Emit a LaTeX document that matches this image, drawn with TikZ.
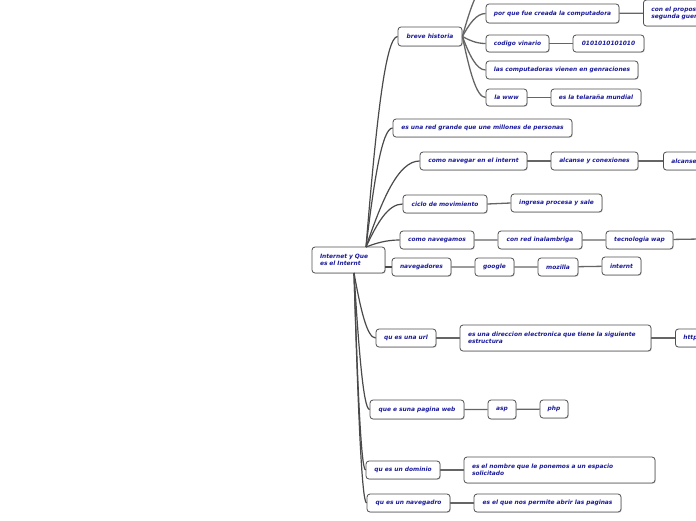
\documentclass[tikz,border=0pt]{standalone}
\usepackage{fontspec}
\newfontfamily\mapfont{DejaVu Sans}
\usetikzlibrary{calc,shadows}
\definecolor{ink}{HTML}{1A1A99}
\definecolor{wire}{HTML}{4A4A4A}
\definecolor{frame}{HTML}{505050}
\tikzset{
  topic/.style={draw=frame,fill=white,line width=0.8pt,rounded corners=3pt,text=ink,
    font=\mapfont\bfseries\itshape\fontsize{5.9}{6.8}\selectfont,inner xsep=2pt,inner ysep=0pt,
    drop shadow={shadow xshift=0.8pt,shadow yshift=-0.8pt,fill=black!30}},
  wide/.style={align=left,inner xsep=8pt},
  trunk/.style={draw=wire,line width=1.2pt},
  twig/.style={draw=wire!85,line width=1.3pt},
}
\begin{document}
\begin{tikzpicture}[x=1pt,y=-1pt]
  \useasboundingbox (0,0) rectangle (696,520);
  \clip (0,0) rectangle (696,520);
  \def\topicnode#1#2#3#4#5{\node[topic,minimum width=#3,minimum height=#4] (#1) at (#2) {#5};}
  \def\branch#1#2#3{\draw[#1] let \p1=(#2), \p2=(#3) in (\p1) .. controls ({\x1+0.3*(\x2-\x1)},{\y1+0.55*(\y2-\y1)}) and ({\x2-0.4*(\x2-\x1)},\y2) .. (\p2);}
  % central topic
  \node[topic,wide,text width=57pt,minimum height=26pt] (root) at (348.5,260) {Internet y Que\\es el Internt};
  % breve historia
  \topicnode{breve}{430,36.5}{64pt}{19pt}{breve historia}
  \topicnode{porque}{552.5,13.5}{133pt}{19pt}{por que fue creada la computadora}
  \node[topic,wide,text width=150pt,minimum height=26pt,anchor=west] (proposito) at (643,13) {con el proposito de\\segunda guerra mundial};
  \topicnode{codigo}{517.5,43.5}{63pt}{17pt}{codigo vinario}
  \topicnode{binario}{608.5,43.5}{71pt}{17pt}{0101010101010}
  \topicnode{genera}{562,70}{152pt}{18pt}{las computadoras vienen en genraciones}
  \topicnode{www}{506.5,97.5}{41pt}{17pt}{la www}
  \topicnode{telarana}{596,97.5}{90pt}{17pt}{es la telaraña mundial}
  % upper branches
  \topicnode{redgrande}{482.5,128}{179pt}{18pt}{es una red grande que une millones de personas}
  \topicnode{navegar}{473.5,161}{107pt}{18pt}{como navegar en el internt}
  \topicnode{alcanse}{594.5,161}{87pt}{18pt}{alcanse y conexiones}
  \node[topic,wide,text width=60pt,minimum height=18pt,anchor=west] (alcansemas) at (663,161) {alcanse};
  \topicnode{ciclo}{445,204}{84pt}{18pt}{ciclo de movimiento}
  \topicnode{ingresa}{556.5,203}{91pt}{18pt}{ingresa procesa y sale}
  \topicnode{navegamos}{437,240}{74pt}{18pt}{como navegamos}
  \topicnode{inalambrica}{540,240}{84pt}{18pt}{con red inalambriga}
  \topicnode{wap}{639.5,240}{67pt}{18pt}{tecnologia wap}
  \topicnode{navegadores}{421.5,267}{59pt}{18pt}{navegadores}
  \topicnode{google}{494.5,267}{39pt}{18pt}{google}
  \topicnode{mozilla}{558,267}{40pt}{18pt}{mozilla}
  \topicnode{internt}{621.5,266}{39pt}{18pt}{internt}
  % lower branches
  \topicnode{url}{406,338}{60pt}{18pt}{qu es una url}
  \node[topic,wide,text width=175pt,minimum height=26pt] (direccion) at (555.5,338) {es una direccion electronica que tiene la siguiente\\estructura};
  \node[topic,wide,text width=40pt,minimum height=18pt,anchor=west] (http) at (675,338) {http};
  \topicnode{paginaweb}{417,409.5}{94pt}{19pt}{que e suna pagina web}
  \topicnode{asp}{502,409.5}{28pt}{19pt}{asp}
  \topicnode{php}{554,409}{28pt}{18pt}{php}
  \topicnode{dominio}{403,470}{74pt}{18pt}{qu es un dominio}
  \node[topic,wide,text width=175pt,minimum height=26pt] (nombre) at (559.5,470) {es el nombre que le ponemos a un espacio\\solicitado};
  \topicnode{navegadro}{408.5,503}{83pt}{18pt}{qu es un navegadro}
  \topicnode{abrir}{547.5,503}{147pt}{18pt}{es el que nos permite abrir las paginas}
  % loose ends beyond the frame
  \coordinate (arriba) at (490,-18);
  \coordinate (derecha) at (700,239);
  % trunk from the central topic
  \coordinate (up) at (366,247);
  \coordinate (down) at (354,273);
  \foreach \t in {breve,redgrande,navegar,ciclo,navegamos}
    {\branch{trunk}{up}{\t.west}}
  \foreach \t in {url,paginaweb,dominio,navegadro}
    {\branch{trunk}{down}{\t.west}}
  \draw[trunk] (root.east |- navegadores) -- (navegadores.west);
  % fan out of breve historia
  \foreach \t in {porque,codigo,genera,www}
    {\branch{twig}{breve.east}{\t.west}}
  \branch{twig}{breve.east}{arriba}
  % chains
  \draw[twig] (porque) -- (proposito);
  \draw[twig] (codigo) -- (binario);
  \draw[twig] (www) -- (telarana);
  \draw[twig] (navegar) -- (alcanse) -- (alcansemas);
  \draw[twig] (ciclo.east) -- (ingresa.west);
  \draw[twig] (navegamos) -- (inalambrica) -- (wap) -- (derecha);
  \draw[twig] (navegadores) -- (google) -- (mozilla) -- (internt);
  \draw[twig] (url) -- (direccion) -- (http);
  \draw[twig] (paginaweb) -- (asp) -- (php);
  \draw[twig] (dominio) -- (nombre);
  \draw[twig] (navegadro) -- (abrir);
\end{tikzpicture}
\end{document}
